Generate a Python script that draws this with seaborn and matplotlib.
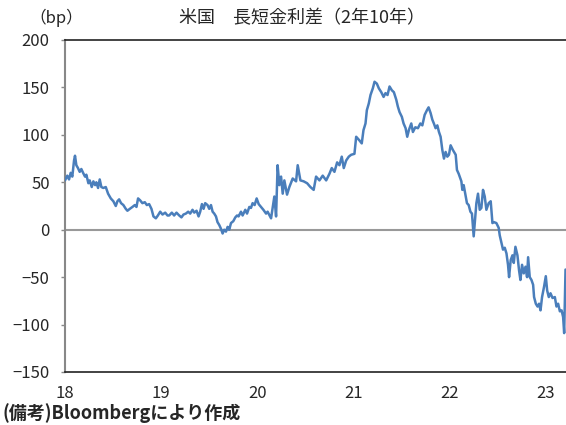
import matplotlib
matplotlib.use("Agg")
import matplotlib.pyplot as plt
import seaborn as sns
import pandas as pd

# 2y10y spread (x = year, 18 = 2018)
years = [
    18.000, 18.024, 18.042, 18.059, 18.076, 18.094, 18.104, 18.118, 18.135, 18.153,
    18.170, 18.188, 18.208, 18.222, 18.243, 18.257, 18.278, 18.295, 18.313, 18.326,
    18.344, 18.361, 18.378, 18.399, 18.424, 18.448, 18.476, 18.503, 18.528, 18.545,
    18.563, 18.583, 18.607, 18.632, 18.649, 18.674, 18.701, 18.726, 18.743, 18.760,
    18.781, 18.805, 18.830, 18.851, 18.875, 18.899, 18.920, 18.945, 18.966, 18.990,
    19.014, 19.042, 19.066, 19.083, 19.111, 19.135, 19.159, 19.188, 19.211, 19.232,
    19.257, 19.281, 19.302, 19.326, 19.344, 19.368, 19.389, 19.406, 19.424, 19.441,
    19.458, 19.482, 19.500, 19.518, 19.535, 19.552, 19.570, 19.586, 19.604, 19.622,
    19.639, 19.656, 19.674, 19.691, 19.708, 19.726, 19.750, 19.771, 19.789, 19.805,
    19.830, 19.847, 19.875, 19.893, 19.917, 19.934, 19.951, 19.972, 19.993, 20.014,
    20.039, 20.063, 20.091, 20.107, 20.143, 20.177, 20.195, 20.211, 20.229, 20.247,
    20.264, 20.281, 20.309, 20.333, 20.368, 20.403, 20.420, 20.448, 20.482, 20.518,
    20.552, 20.586, 20.611, 20.646, 20.680, 20.716, 20.750, 20.774, 20.802, 20.830,
    20.854, 20.878, 20.899, 20.924, 20.951, 20.976, 21.010, 21.028, 21.063, 21.086,
    21.104, 21.125, 21.139, 21.159, 21.177, 21.201, 21.219, 21.243, 21.264, 21.289,
    21.313, 21.333, 21.354, 21.375, 21.399, 21.420, 21.445, 21.461, 21.479, 21.503,
    21.521, 21.542, 21.559, 21.576, 21.601, 21.618, 21.643, 21.670, 21.695, 21.716,
    21.740, 21.764, 21.781, 21.802, 21.820, 21.836, 21.854, 21.872, 21.889, 21.906,
    21.924, 21.941, 21.958, 21.976, 21.993, 22.010, 22.034, 22.063, 22.076, 22.094,
    22.122, 22.132, 22.146, 22.164, 22.180, 22.198, 22.216, 22.232, 22.250, 22.264,
    22.278, 22.295, 22.313, 22.330, 22.347, 22.365, 22.382, 22.406, 22.427, 22.445,
    22.461, 22.486, 22.510, 22.521, 22.539, 22.555, 22.573, 22.591, 22.607, 22.618,
    22.635, 22.653, 22.667, 22.684, 22.705, 22.722, 22.736, 22.753, 22.771, 22.789,
    22.805, 22.816, 22.833, 22.851, 22.868, 22.878, 22.896, 22.914, 22.930, 22.945,
    22.961, 22.982, 23.000, 23.014, 23.031, 23.049, 23.070, 23.094, 23.111, 23.128,
    23.146, 23.164, 23.180, 23.191, 23.205,
]
spread = [
    52, 57, 53, 60, 56, 73, 78, 68, 65, 61,
    64, 60, 56, 58, 49, 52, 45, 51, 47, 50,
    44, 53, 45, 44, 45, 38, 33, 30, 25, 30,
    32, 28, 26, 22, 20, 22, 24, 26, 24, 33,
    31, 28, 29, 26, 27, 22, 14, 12, 15, 19,
    16, 18, 15, 15, 18, 15, 18, 15, 13, 16,
    17, 19, 17, 21, 18, 20, 14, 19, 27, 22,
    28, 26, 22, 26, 19, 17, 14, 8, 5, 1,
    -4, 0, -2, 3, 0, 7, 9, 13, 15, 14,
    19, 15, 21, 17, 24, 23, 28, 26, 33, 27,
    24, 21, 17, 19, 12, 35, 14, 68, 47, 56,
    38, 52, 37, 45, 54, 51, 68, 52, 51, 49,
    45, 42, 56, 52, 57, 52, 59, 65, 61, 71,
    68, 77, 65, 73, 77, 79, 80, 98, 94, 91,
    105, 112, 126, 133, 142, 149, 156, 154, 149, 145,
    140, 144, 142, 151, 147, 145, 137, 130, 124, 119,
    112, 107, 98, 105, 112, 103, 108, 107, 112, 110,
    121, 126, 129, 123, 116, 112, 107, 110, 103, 98,
    84, 75, 82, 77, 79, 89, 84, 79, 63, 59,
    51, 42, 47, 37, 28, 26, 19, 17, -7, 10,
    28, 38, 21, 23, 42, 35, 21, 28, 30, 7,
    8, 7, 2, -6, -14, -21, -19, -25, -37, -50,
    -32, -27, -35, -18, -27, -43, -53, -37, -46, -39,
    -50, -29, -50, -53, -58, -71, -78, -81, -78, -85,
    -71, -60, -49, -64, -71, -67, -72, -71, -81, -78,
    -86, -85, -92, -109, -42,
]
year_ticks = [18, 19, 20, 21, 22, 23]
y_ticks = [-150, -100, -50, 0, 50, 100, 150, 200]

df = pd.DataFrame({"year": years, "spread": spread})

sns.set_style("white")
plt.rcParams["font.family"] = ["Noto Sans CJK JP", "DejaVu Sans"]

fig = plt.figure(figsize=(5.66, 4.25), dpi=100)
ax = fig.add_axes([65 / 566, 1 - 372 / 425, 1 - 65 / 566, (372 - 40) / 425])

ax.axhline(0, color="#999999", lw=1.5, zorder=1)
sns.lineplot(data=df, x="year", y="spread", ax=ax, color="#4a7ebb", lw=1.8, zorder=3)

ax.set_xlim(18, 23.21)
ax.set_ylim(-150, 200)
ax.set_xticks(year_ticks)
ax.set_xticklabels([str(v) for v in year_ticks])
ax.set_yticks(y_ticks)
ax.set_yticklabels([str(v).replace("-", "−") for v in y_ticks])
ax.tick_params(axis="x", length=0, pad=9, labelsize=12)
ax.tick_params(axis="y", length=3, width=1, color="#888888", pad=8, labelsize=12, left=True)
ax.set_xlabel("")
ax.set_ylabel("")

ax.spines["right"].set_visible(False)
ax.spines["left"].set_color("#888888")
ax.spines["left"].set_linewidth(1.5)
ax.spines["top"].set_color("#222222")
ax.spines["top"].set_linewidth(1.2)
ax.spines["bottom"].set_color("#222222")
ax.spines["bottom"].set_linewidth(1.2)

fig.text(302 / 566, 1 - 18 / 425, "米国　長短金利差（2年10年）", ha="center", va="center", fontsize=13)
fig.text(56 / 566, 1 - 18 / 425, "（bp）", ha="center", va="center", fontsize=12)
fig.text(2 / 566, 1 - 413 / 425, "(備考)Bloombergにより作成", ha="left", va="center",
         fontsize=13, fontweight="bold")

fig.savefig("out.png", dpi=100)
